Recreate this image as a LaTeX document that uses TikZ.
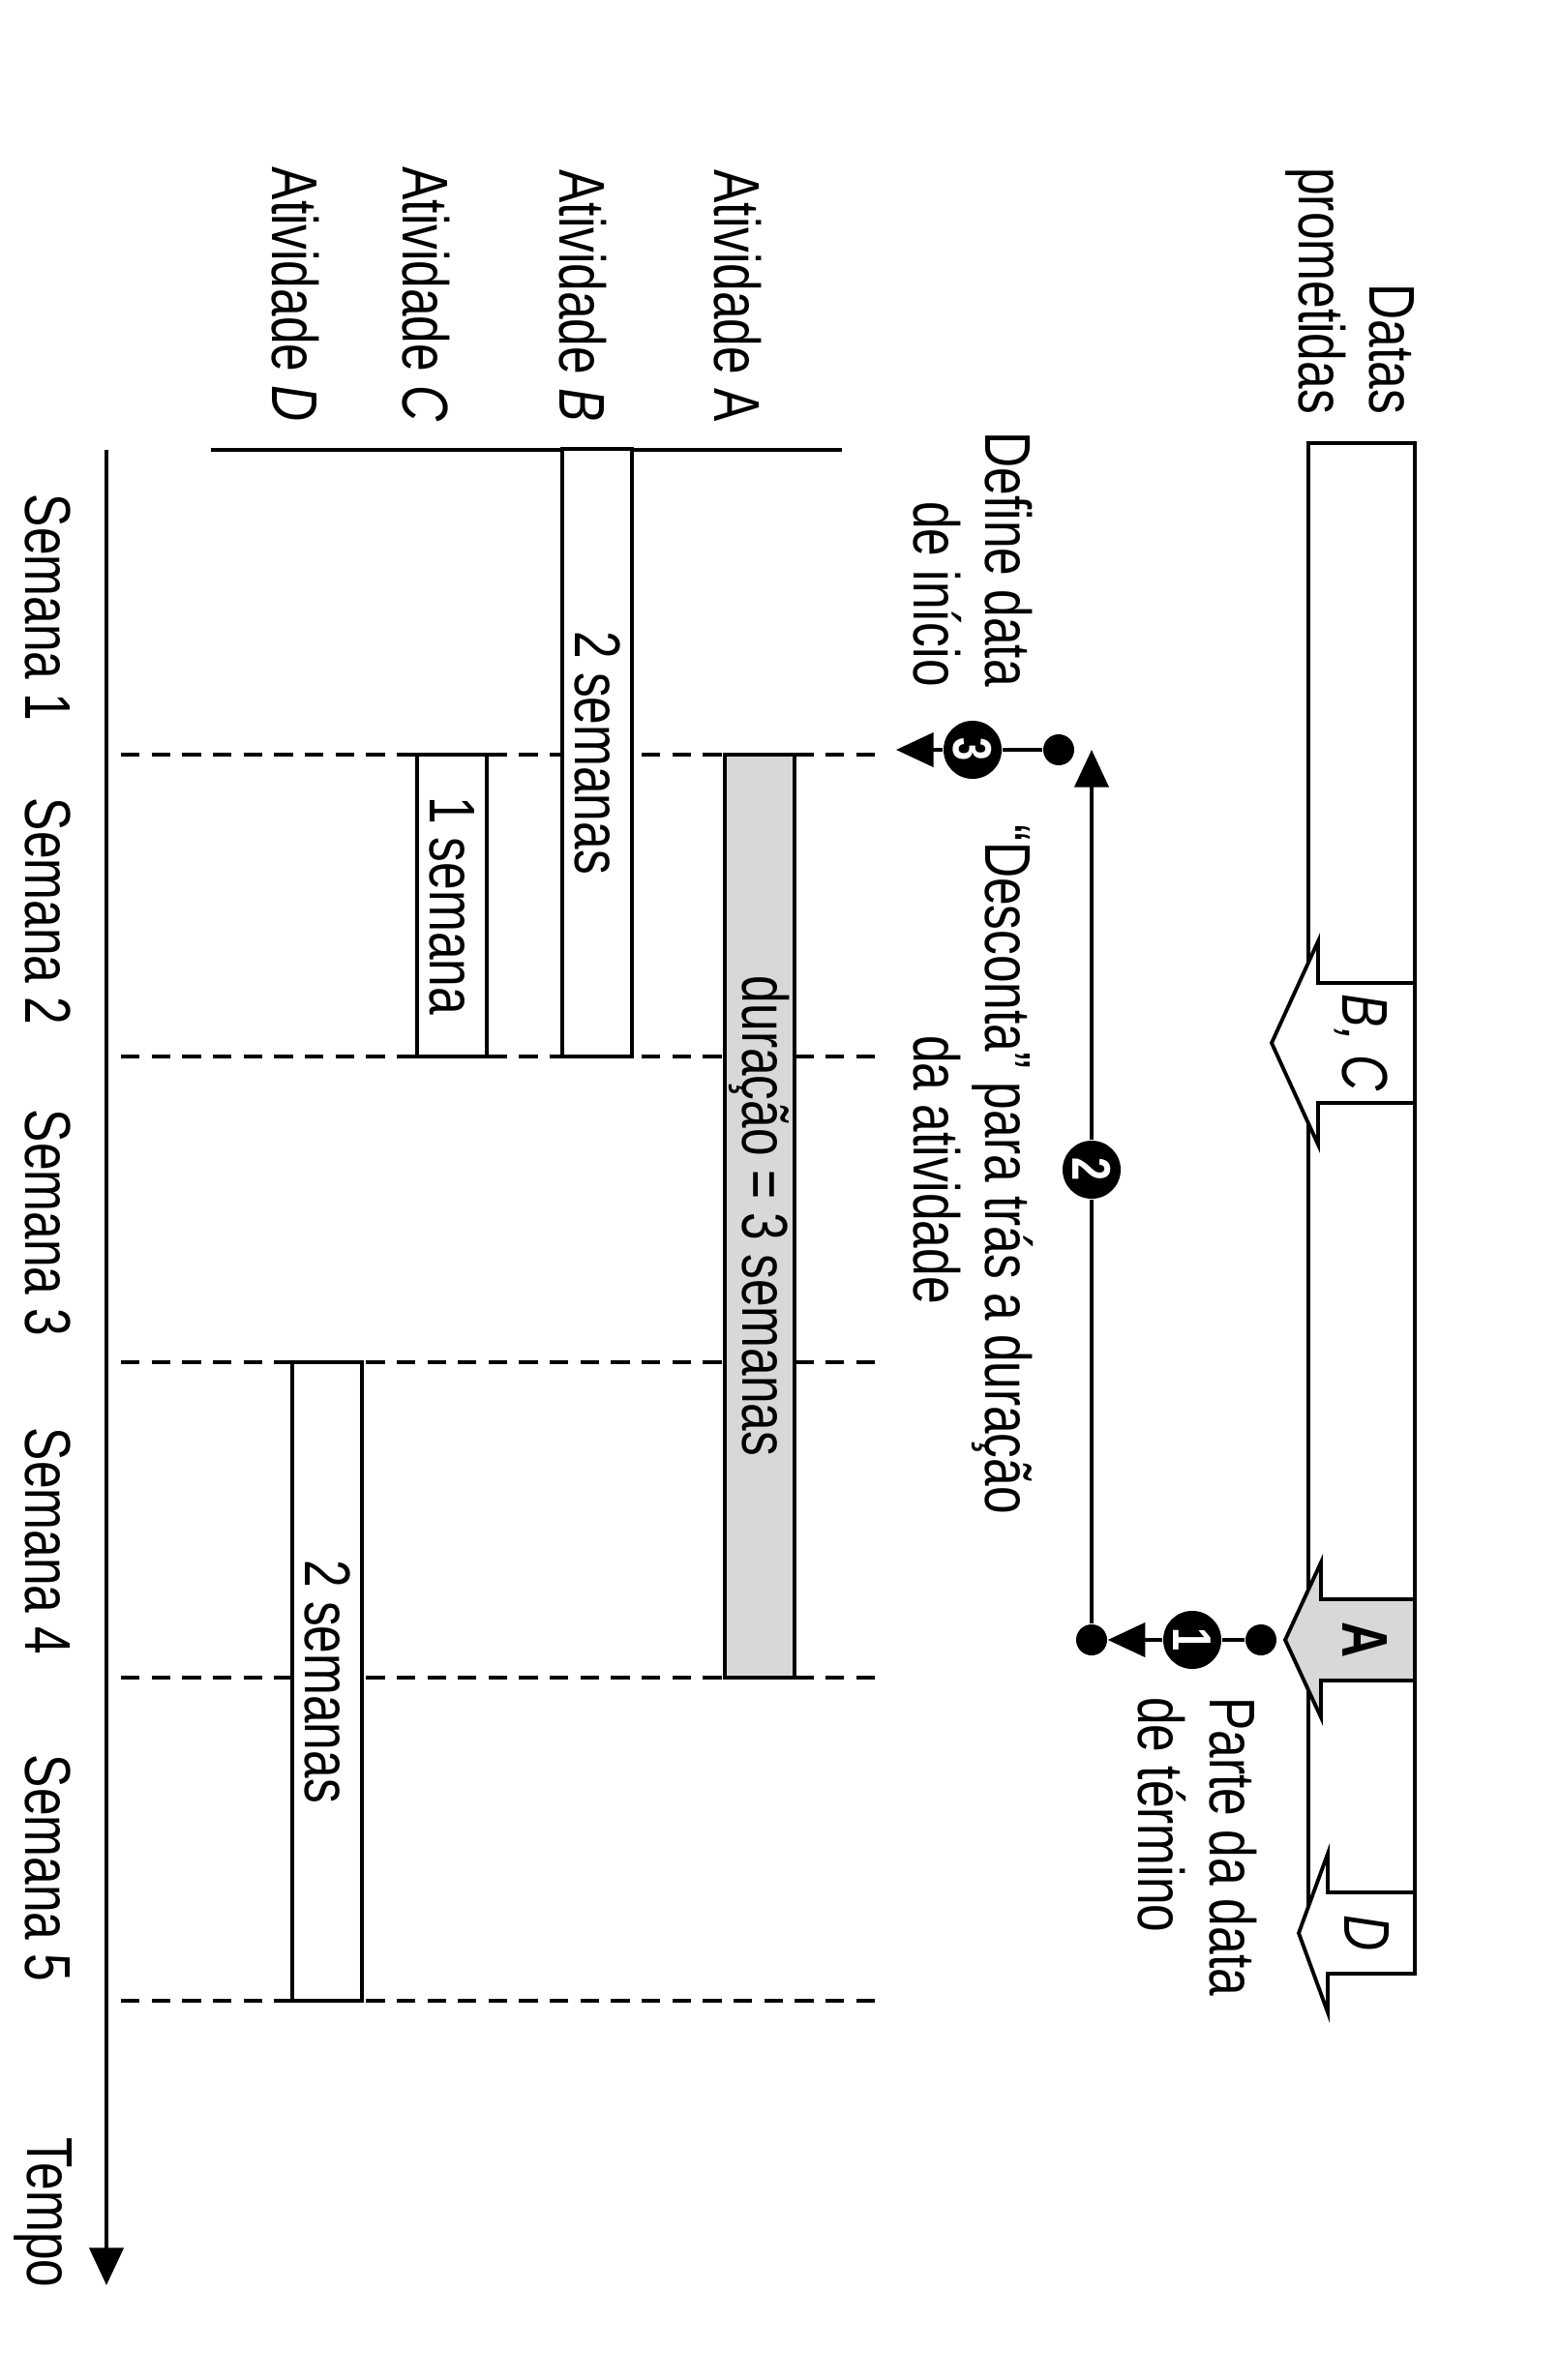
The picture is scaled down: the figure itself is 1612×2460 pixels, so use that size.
\documentclass[tikz,border=0pt]{standalone}
\usepackage{fontspec}
\setmainfont{Liberation Sans}[FakeStretch=0.77]
\usetikzlibrary{arrows.meta}
\definecolor{cinza}{HTML}{D8D8D8}
\tikzset{
  every node/.style={font=\fontsize{19}{21}\selectfont, rotate=-90},
  lbl/.style={inner sep=1pt},
  bar/.style={draw, line width=1.1pt, fill=white, minimum height=0.72cm, inner sep=0pt},
  barCinza/.style={bar, fill=cinza},
  grade/.style={line width=1.1pt, dash pattern=on 5.5pt off 3.5pt},
  linha/.style={line width=1.1pt},
  arr/.style={line width=1.1pt, -{Triangle[length=11pt, width=10pt]}},
  dot/.style={circle, fill=black, minimum size=0.32cm, inner sep=0pt},
  num/.style={circle, fill=black, text=white, minimum size=0.6cm, inner sep=0pt,
              font=\fontsize{16}{16}\selectfont\bfseries},
  marco/.style={line width=1.1pt, line join=miter},
}

\begin{document}
\begin{tikzpicture}[x=0.01cm, y=-0.01cm]
  \useasboundingbox (0,0) rectangle (1612,2460);
  % semanas
  \foreach \w in {780,1092,1408,1734,2068}
    \draw[grade] (125,\w) -- (912,\w);
  \coordinate (t0) at (110,465);
  \coordinate (t1) at (110,2362);
  \draw[arr] (t0) -- (t1);
  \node[lbl, anchor=base] (tempo) at (28,2287) {Tempo};
  \foreach \y [count=\k] in {628,942,1264,1593,1931}
    \node[lbl, anchor=base] (sem\k) at (26,\y) {Semana \k};
  % atividades
  \draw[linha] (218,465) -- (870,465);
  \node[lbl, anchor=base east] (atA) at (738,440) {Atividade A};
  \node[lbl, anchor=base east] (atB) at (578,440) {Atividade \textit{B}};
  \node[lbl, anchor=base east] (atC) at (416,440) {Atividade \textit{C}};
  \node[lbl, anchor=base east] (atD) at (281,440) {Atividade \textit{D}};
  \node[barCinza, minimum width=9.54cm] (barA) at (785,1257) {duração = 3 semanas};
  \node[bar, minimum width=6.27cm] (barB) at (617,778) {2 semanas};
  \node[bar, minimum width=3.12cm] (barC) at (467,936) {1 semana};
  \node[bar, minimum width=6.60cm] (barD) at (338,1738) {2 semanas};
  % datas prometidas
  \node[lbl, align=right, anchor=east] (datas) at (1395,432) {Datas\\prometidas};
  \draw[marco] (1352,458) rectangle (1462,2000);
  \filldraw[marco, fill=white] (1462,1016) -- (1362,1016) -- (1362,973) -- (1314,1078)
    -- (1362,1183) -- (1362,1140) -- (1462,1140) -- cycle;
  \node (mBC) at (1407,1078) {\itshape B, C};
  \filldraw[marco, fill=cinza] (1462,1653) -- (1365,1653) -- (1365,1615) -- (1328,1695)
    -- (1365,1775) -- (1365,1737) -- (1462,1737) -- cycle;
  \node (mA) at (1410,1695) {\bfseries A};
  \filldraw[marco, fill=white] (1462,1956) -- (1372,1956) -- (1372,1916) -- (1342,1998)
    -- (1372,2080) -- (1372,2040) -- (1462,2040) -- cycle;
  \node (mD) at (1412,1998) {\itshape D};
  % passos 1, 2, 3
  \node[dot] (prazoA) at (1303,1695) {};
  \node[num] (n1) at (1232,1695) {1};
  \node[dot] (fimA) at (1128,1695) {};
  \draw[linha] (prazoA) -- (n1);
  \draw[arr] (n1) -- (fimA);
  \node[num] (n2) at (1128,1209) {2};
  \node[dot] (iniA) at (1094,775) {};
  \draw[linha] (fimA) -- (n2);
  \draw[arr] (n2) -- (n2 |- iniA);
  \node[num] (n3) at (1005,775) {3};
  \coordinate (inicio) at (926,775);
  \draw[linha] (iniA) -- (n3);
  \draw[arr] (n3) -- (inicio);
  \node[lbl, anchor=west, align=left] (parte) at (1237,1750) {Parte da data\\de término};
  \node[lbl, align=center] (desconta) at (1006,1209) {“Desconta” para trás a duração\\da atividade};
  \node[lbl, anchor=east, align=right] (define) at (1005,714) {Define data\\de início};
\end{tikzpicture}
\end{document}
